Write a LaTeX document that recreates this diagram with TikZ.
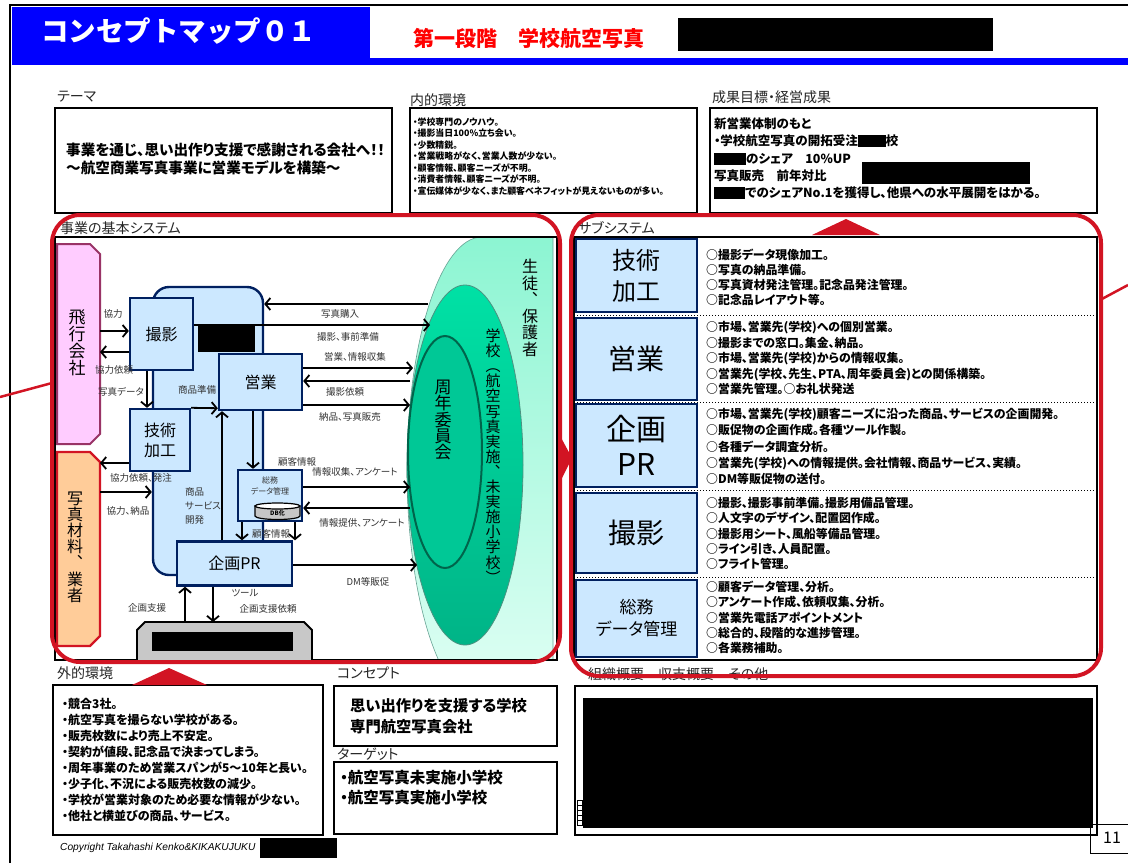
\documentclass[tikz,border=0pt]{standalone}
\usepackage{fontspec}
\setmainfont{Noto Sans CJK JP}[RawFeature=+palt]
\newfontfamily\jpfw{Noto Sans CJK JP}
\newfontfamily\latinf{Liberation Sans}
\usetikzlibrary{arrows.meta,calc}
\newcommand\fs[2]{\fontsize{#1}{#2}\selectfont}
\definecolor{redc}{RGB}{210,20,35}
\definecolor{navy}{RGB}{0,32,96}
\definecolor{lblue}{RGB}{204,232,255}
\definecolor{pinkf}{RGB}{255,204,255}
\definecolor{pinkd}{RGB}{153,51,102}
\definecolor{orgf}{RGB}{255,204,153}
\definecolor{hblue}{RGB}{0,0,255}
\definecolor{mintA}{RGB}{140,245,210}
\definecolor{mintB}{RGB}{225,255,245}
\definecolor{grnA}{RGB}{0,225,165}
\definecolor{grnB}{RGB}{0,180,135}
\definecolor{grnC}{RGB}{0,200,150}
\definecolor{gdark}{RGB}{0,100,75}
\definecolor{grayf}{RGB}{200,200,200}
\begin{document}
\begin{tikzpicture}[x=1pt,y=-1pt,
  frame/.style={draw=black,line width=1.8},
  lbl/.style={anchor=west,inner sep=0,font=\fs{14}{16},text=black!85},
  bx/.style={draw=navy,line width=2.4,fill=lblue,inner sep=0,align=center},
  arr/.style={line width=1.8,-{Straight Barb[length=5pt,width=12pt]}},
  alab/.style={inner sep=0,font=\fs{9.5}{11},text=black!80},
  txt/.style={anchor=west,inner sep=0,align=left},
  vt/.style={inner sep=0,align=center},
  redl/.style={draw=redc,line width=4},
  sub/.style={bx,minimum width=121pt,font=\fs{26}{32}}
]
\fill[white] (0,0) rectangle (1128,863);
\useasboundingbox (0,0) rectangle (1128,863);
% header
\fill[hblue] (12,7) rectangle (370,65);
\fill[hblue] (370,58) rectangle (1128,65);
\draw[line width=1.2] (10,863) -- (10,5) -- (1128,5);
\node[inner sep=0,text=white,font=\jpfw\bfseries\fs{27.5}{30}] (ttl) at (179,31) {コンセプトマップ０１};
\node[inner sep=0,text=red,font=\bfseries\fs{21}{24}] (stage) at (529,38) {第一段階　学校航空写真};
\fill (678,18) rectangle (993,51);
% section labels
\node[lbl] (l1) at (57,97) {テーマ};
\node[lbl] (l2) at (410,100) {内的環境};
\node[lbl] (l3) at (712,97) {成果目標・経営成果};
\node[lbl] (l4) at (60,228) {事業の基本システム};
\node[lbl] (l5) at (578,228) {サブシステム};
\node[lbl] (l6) at (57,673) {外的環境};
\node[lbl] (l7) at (337,673) {コンセプト};
\node[lbl] (l8) at (337,754) {ターゲット};
\node[lbl] (l9) at (588,674) {組織概要　収支概要　その他};
% frames
\draw[frame] (55,108) rectangle (392,213);
\draw[frame] (410,108) rectangle (697,213);
\draw[frame] (710,108) rectangle (1097,213);
\draw[frame] (574,237) rectangle (1097,660);
\draw[frame] (53,685) rectangle (323,835);
\draw[frame] (334,686) rectangle (557,746);
\draw[frame] (334,762) rectangle (557,834);
\draw[frame] (575,686) rectangle (1097,835);
% top texts
\node[txt,font=\bfseries\fs{14.6}{18}] (theme) at (66,159) {事業を通じ、思い出作り支援で感謝される会社へ！！\\～航空商業写真事業に営業モデルを構築～};
\node[txt,font=\bfseries\fs{8.9}{11.5}] (naiteki) at (413,156.5) {・学校専門のノウハウ。\\・撮影当日100\%立ち会い。\\・少数精鋭。\\・営業戦略がなく、営業人数が少ない。\\・顧客情報、顧客ニーズが不明。\\・消費者情報、顧客ニーズが不明。\\・宣伝媒体が少なく、また顧客ベネフィットが見えないものが多い。};
\node[txt,font=\bfseries\fs{12.5}{17.25}] (seika) at (714,158.5) {新営業体制のもと\\・学校航空写真の開拓受注\rule[-1.5pt]{28pt}{12pt}校\\\rule[-1.5pt]{32pt}{12pt}のシェア\quad 10\%UP\\写真販売　前年対比　\\\rule[-1.5pt]{31pt}{12pt}でのシェアNo.1を獲得し、他県への水平展開をはかる。};
\fill (862,162) rectangle (1030,184);
% ===== left system =====
\begin{scope}
\clip (55,237) rectangle (557,660);
\path[top color=mintA,bottom color=mintB,draw=gdark!60,line width=0.6]
  (553,237) -- (482,237) arc[start angle=270,end angle=90,x radius=75,y radius=233] -- (553,703) -- cycle;
\end{scope}
\path[top color=grnA,bottom color=grnB,draw=gdark!70,line width=0.8] (465,465) ellipse [x radius=58,y radius=180];
\path[fill=grnC,draw=gdark,line width=2] (445,452) ellipse [x radius=37,y radius=116];
\node[vt,font=\fs{16}{16.6}] (seito) at (530,308) {生\\徒\\︑\\保\\護\\者};
\node[vt,font=\fs{15}{15.1}] (gakko) at (493,456) {学\\校\\︵\\航\\空\\写\\真\\実\\施\\︑\\未\\実\\施\\小\\学\\校\\︶};
\node[vt,font=\fs{17}{16.3}] (shunen) at (443,420) {周\\年\\委\\員\\会};
\coordinate (schoolL) at (410,470);
% frame of system
\draw[frame] (55,237) rectangle (557,660);
% pink & orange
\draw[fill=pinkf,draw=pinkd,line width=2] (57,244) -- (90,244) -- (100,254) -- (100,434) -- (90,444) -- (57,444) -- cycle;
\node[vt,font=\fs{17}{17}] (hikou) at (77,343) {飛\\行\\会\\社};
\coordinate (hikE) at (100,344);
\draw[fill=orgf,draw=redc,line width=2.2] (57,452) -- (90,452) -- (100,462) -- (100,636) -- (90,646) -- (57,646) -- cycle;
\node[vt,font=\fs{16}{16.2}] (zairyo) at (75,547) {写\\真\\材\\料\\︑\\業\\者};
\coordinate (zaiE) at (100,548);
% gray box
\draw[fill=grayf,draw=black,line width=1.8] (137,660) -- (137,630) -- (145,622) -- (304,622) -- (312,630) -- (312,660);
\coordinate (grayT) at (224,622);
\fill (152,632) rectangle (293,651);
% blue background
\node[bx,rounded corners=16,minimum width=110pt,minimum height=288pt] (bg) at (208,431) {};
% boxes
\node[bx,minimum width=63pt,minimum height=72pt,font=\fs{16}{18}] (sat) at (161.5,334) {撮影};
\fill (198,325) rectangle (255,352);
\node[bx,minimum width=83pt,minimum height=56pt,font=\fs{16}{18}] (eig) at (260.5,382) {営業};
\node[bx,minimum width=60pt,minimum height=62pt,font=\fs{16}{20}] (gij) at (160,440) {技術\\加工};
\node[bx,minimum width=64pt,minimum height=51pt] (som) at (270,495.5) {};
\node[vt,font=\fs{8}{11},text=black!80] (somt) at (270,486) {総務\\データ管理};
\fill[gray!45,draw=black,line width=1.2] (255,506) -- (255,516) arc[start angle=180,end angle=0,x radius=22.5,y radius=3.5] -- (300,506) -- cycle;
\draw[fill=white,line width=1.2] (277.5,506) ellipse [x radius=22.5,y radius=3];
\node[inner sep=0,font=\bfseries\fs{6}{7}] (db) at (277.5,513) {DB化};
\node[bx,minimum width=115pt,minimum height=44pt,font=\fs{16}{18}] (kik) at (234.5,563.5) {企画PR};
% arrows
\draw[arr] (hikE |- 0,331) -- (sat.west |- 0,331);
\node[alab] (a1) at (113,314) {協力};
\draw[arr] (sat.west |- 0,352) -- (hikE |- 0,352);
\node[alab] (a2) at (114,370) {協力依頼};
\draw[arr] (sat.south -| 147,0) -- (gij.north -| 147,0);
\node[alab] (a3) at (121,392) {写真データ};
\draw[arr] (gij.north east) -- ($(eig.south west)+(0,-3)$);
\node[alab] (a4) at (197,390) {商品準備};
\draw[arr] (kik.north -| 222,0) -- (eig.south -| 222,0);
\draw[arr] (eig.south -| 253,0) -- (som.north -| 253,0);
\node[alab] (a5) at (297,462) {顧客情報};
\draw[arr] (som.east |- 0,487) -- (schoolL |- 0,487);
\node[alab] (a6) at (355,472) {情報収集、アンケート};
\draw[arr] (schoolL |- 0,508) -- (som.east |- 0,508);
\node[alab] (a7) at (362,523) {情報提供、アンケート};
\draw[arr] (som.south -| 242,0) -- (kik.north -| 242,0);
\draw[arr] (som.south -| 295,0) -- (kik.north -| 295,0);
\node[alab] (a8) at (271,534) {顧客情報};
\draw[arr] (kik.east |- 0,565) -- (417,565);
\node[alab] (a9) at (368,582) {DM等販促};
\draw[arr] (grayT -| 185,0) -- (kik.south -| 185,0);
\node[alab] (a10) at (147,608) {企画支援};
\draw[arr] (kik.south -| 213,0) -- (grayT -| 213,0);
\node[alab] (a11) at (245,593) {ツール};
\node[alab] (a12) at (268,609) {企画支援依頼};
\draw[arr] (gij.west |- 0,463) -- (zaiE |- 0,463);
\node[alab] (a13) at (141,478) {協力依頼、発注};
\draw[arr] (zaiE |- 0,492) -- (bg.west |- 0,492);
\node[alab] (a14) at (128,511) {協力、納品};
\node[txt,font=\fs{9.5}{14},text=black!80] (a15) at (185,506) {商品\\サービス\\開発};
\draw[arr] (428,304) -- (bg.east |- 0,304);
\node[alab] (a16) at (340,314) {写真購入};
\draw[arr] (sat.east |- 0,325) -- (430,325);
\node[alab] (a17) at (348,337) {撮影、事前準備};
\draw[arr] (eig.east |- 0,368) -- (413,368);
\node[alab] (a18) at (355,357) {営業、情報収集};
\draw[arr] (410,381) -- (eig.east |- 0,381);
\node[alab] (a19) at (345,392) {撮影依頼};
\draw[arr] (eig.east |- 0,405) -- (410,405);
\node[alab] (a20) at (350,417) {納品、写真販売};
% ===== subsystem =====
\foreach \yy in {315,402,490,577} \draw[dotted,line width=1] (574,\yy) -- (1097,\yy);
\node[sub,minimum height=73pt,font=\fs{24}{31}] (s1) at (636.5,275.5) {技術\\加工};
\node[sub,minimum height=82pt,font=\fs{28}{32}] (s2) at (636.5,359) {営業};
\node[sub,minimum height=83pt,font=\fs{30}{35}] (s3) at (636.5,445.5) {企画\\PR};
\node[sub,minimum height=80pt,font=\fs{28}{32}] (s4) at (636.5,533) {撮影};
\node[sub,minimum height=77pt,font=\fs{17}{22}] (s5) at (636.5,618.5) {総務\\データ管理};
\node[txt,font=\bfseries\fs{11.9}{15}] (d1) at (706,277) {○撮影データ現像加工。\\○写真の納品準備。\\○写真資材発注管理。記念品発注管理。\\○記念品レイアウト等。};
\node[txt,font=\bfseries\fs{11.9}{15.5}] (d2) at (706,358) {○市場、営業先(学校)への個別営業。\\○撮影までの窓口。集金、納品。\\○市場、営業先(学校)からの情報収集。\\○営業先(学校、先生、PTA、周年委員会)との関係構築。\\○営業先管理。○お礼状発送};
\node[txt,font=\bfseries\fs{11.9}{16.25}] (d3) at (706,446.5) {○市場、営業先(学校)顧客ニーズに沿った商品、サービスの企画開発。\\○販促物の企画作成。各種ツール作製。\\○各種データ調査分析。\\○営業先(学校)への情報提供。会社情報、商品サービス、実績。\\○DM等販促物の送付。};
\node[txt,font=\bfseries\fs{11.9}{15.25}] (d4) at (706,533.5) {○撮影、撮影事前準備。撮影用備品管理。\\○人文字のデザイン、配置図作成。\\○撮影用シート、風船等備品管理。\\○ライン引き、人員配置。\\○フライト管理。};
\node[txt,font=\bfseries\fs{11.9}{15.25}] (d5) at (706,617.5) {○顧客データ管理、分析。\\○アンケート作成、依頼収集、分析。\\○営業先電話アポイントメント\\○総合的、段階的な進捗管理。\\○各業務補助。};
% ===== bottom =====
\node[txt,font=\bfseries\fs{12}{16}] (gai) at (62,760) {・競合3社。\\・航空写真を撮らない学校がある。\\・販売枚数により売上不安定。\\・契約が値段、記念品で決まってしまう。\\・周年事業のため営業スパンが5～10年と長い。\\・少子化、不況による販売枚数の減少。\\・学校が営業対象のため必要な情報が少ない。\\・他社と横並びの商品、サービス。};
\node[txt,font=\bfseries\fs{15.3}{21}] (con) at (350,716.5) {思い出作りを支援する学校\\専門航空写真会社};
\node[txt,font=\bfseries\fs{15.5}{20}] (tgt) at (340,788) {・航空写真未実施小学校\\・航空写真実施小学校};
\fill (583,698) rectangle (1093,828);
\foreach \k in {0,...,4} \draw[line width=0.4] (577,800+5*\k) rectangle (582,805+5*\k);
\node[txt,font=\latinf\itshape\fs{10.2}{11}] (copy) at (60,848) {Copyright Takahashi Kenko\&KIKAKUJUKU};
\fill (260,838) rectangle (337,858);
\draw[line width=1] (1090,824) rectangle (1132,853);
\node[inner sep=0,font=\fs{16}{18}] (pg) at (1112,838) {11};
% ===== red overlays =====
\draw[redl,rounded corners=28] (52,215) rectangle (560,662);
\draw[redl,rounded corners=28] (571,215) rectangle (1101,676);
\draw[redc,line width=2.5] (0,397) -- (52,383);
\draw[redc,line width=2.5] (1100,300) -- (1128,285);
\fill[redc] (812,235) -- (846,219) -- (880,235) -- cycle;
\fill[redc] (132,685) -- (169,668) -- (207,685) -- cycle;
\fill[redc] (558,432) -- (572,458) -- (558,486) -- cycle;
\end{tikzpicture}
\end{document}
